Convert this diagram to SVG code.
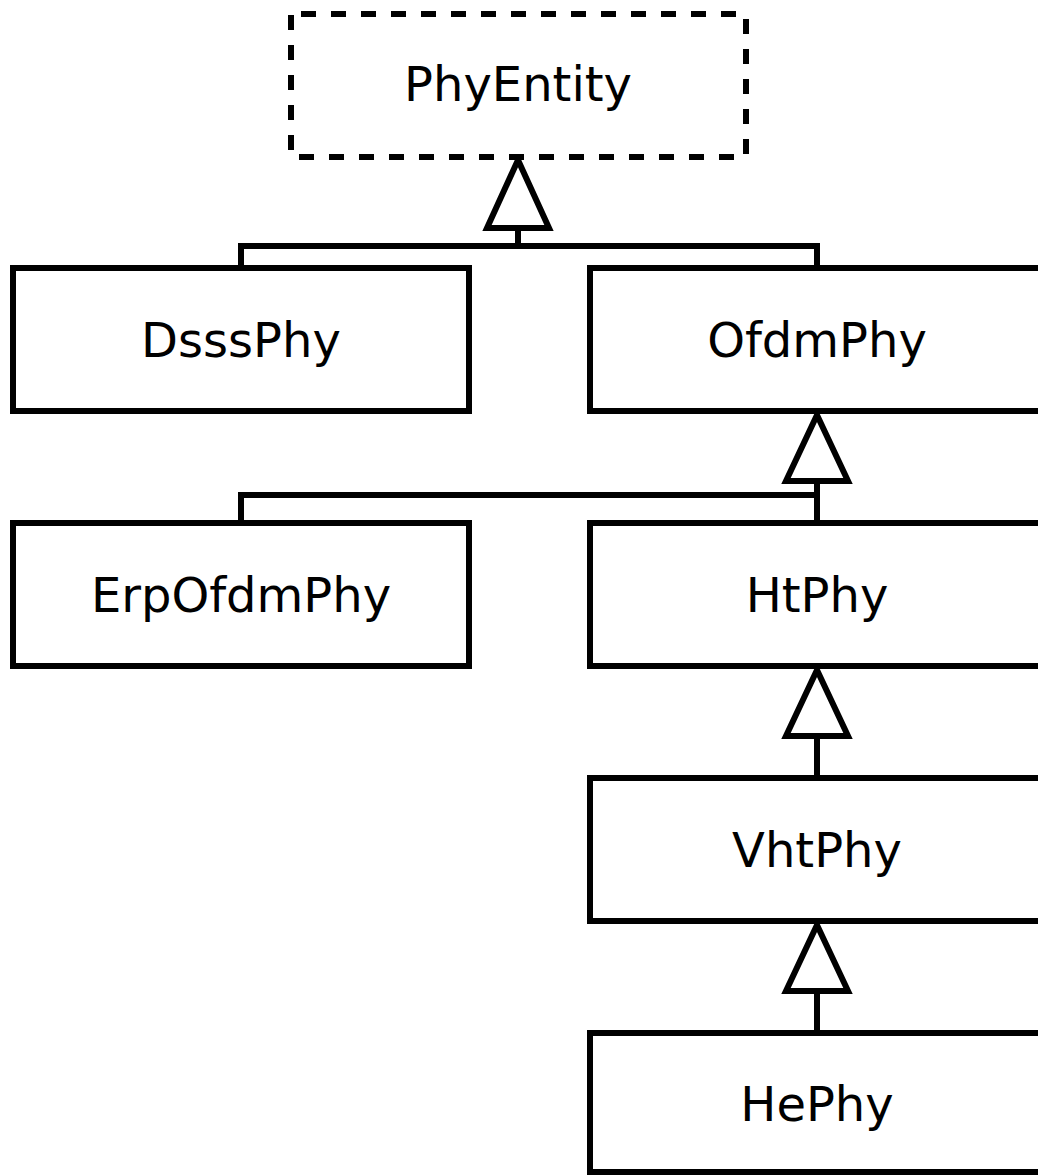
<svg xmlns="http://www.w3.org/2000/svg" width="1038" height="1175" viewBox="0 0 1038 1175">
<style>
.box{fill:#fff;stroke:#000;stroke-width:6}
.abs{fill:#fff;stroke:#000;stroke-width:6;stroke-dasharray:15 15;stroke-dashoffset:20}
.lbl{font-family:"DejaVu Sans",sans-serif;font-size:48px;text-anchor:middle;fill:#000}
.ln{fill:none;stroke:#000;stroke-width:6}
.tri{fill:#fff;stroke:#000;stroke-width:6;stroke-linejoin:miter}
</style>
<rect width="1038" height="1175" fill="#fff"/>
<g id="connectors">
<path class="ln" d="M241,268 V246 H817 V268 M518,246 V228"/>
<polygon class="tri" points="518,160 487,228 549,228"/>
<path class="ln" d="M241,523 V495 H817 M817,481 V523"/>
<polygon class="tri" points="817,415 786,481 848,481"/>
<path class="ln" d="M817,736 V778"/>
<polygon class="tri" points="817,670 786,736 848,736"/>
<path class="ln" d="M817,991 V1033"/>
<polygon class="tri" points="817,925 786,991 848,991"/>
</g>
<g id="PhyEntity"><rect class="abs" x="291" y="14" width="455" height="143"/><text class="lbl" x="518" y="101">PhyEntity</text></g>
<g id="DsssPhy"><rect class="box" x="13" y="268" width="456" height="143"/><text class="lbl" x="241" y="357">DsssPhy</text></g>
<g id="OfdmPhy"><rect class="box" x="590" y="268" width="456" height="143"/><text class="lbl" x="817" y="357">OfdmPhy</text></g>
<g id="ErpOfdmPhy"><rect class="box" x="13" y="523" width="456" height="143"/><text class="lbl" x="241" y="612">ErpOfdmPhy</text></g>
<g id="HtPhy"><rect class="box" x="590" y="523" width="456" height="143"/><text class="lbl" x="817" y="612">HtPhy</text></g>
<g id="VhtPhy"><rect class="box" x="590" y="778" width="456" height="143"/><text class="lbl" x="817" y="867">VhtPhy</text></g>
<g id="HePhy"><rect class="box" x="590" y="1033" width="456" height="139"/><text class="lbl" x="817" y="1121">HePhy</text></g>
</svg>
